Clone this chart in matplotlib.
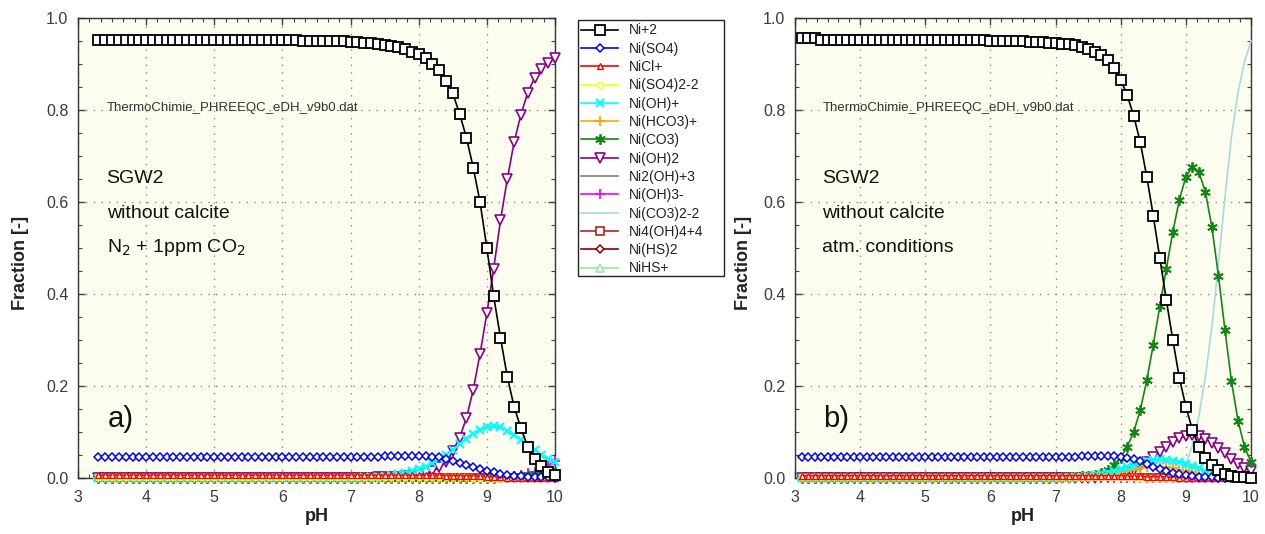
import matplotlib
matplotlib.use("Agg")
import matplotlib.pyplot as plt
from matplotlib.patches import Rectangle
from matplotlib.ticker import MultipleLocator, AutoMinorLocator, FormatStrFormatter

plt.rcParams['font.family'] = ['Liberation Sans', 'DejaVu Sans']

# ---------------- data ----------------
SPECIES = ["Ni+2", "Ni(SO4)", "NiCl+", "Ni(SO4)2-2", "Ni(OH)+", "Ni(HCO3)+", "Ni(CO3)",
           "Ni(OH)2", "Ni2(OH)+3", "Ni(OH)3-", "Ni(CO3)2-2", "Ni4(OH)4+4", "Ni(HS)2", "NiHS+"]

PH_A = [3.3, 3.4, 3.5, 3.6, 3.7, 3.8, 3.9,
        4.0, 4.1, 4.2, 4.3, 4.4, 4.5, 4.6, 4.7, 4.8, 4.9,
        5.0, 5.1, 5.2, 5.3, 5.4, 5.5, 5.6, 5.7, 5.8, 5.9,
        6.0, 6.1, 6.2, 6.3, 6.4, 6.5, 6.6, 6.7, 6.8, 6.9,
        7.0, 7.1, 7.2, 7.3, 7.4, 7.5, 7.6, 7.7, 7.8, 7.9,
        8.0, 8.1, 8.2, 8.3, 8.4, 8.5, 8.6, 8.7, 8.8, 8.9,
        9.0, 9.1, 9.2, 9.3, 9.4, 9.5, 9.6, 9.7, 9.8, 9.9,
        10.0]

A_NI2 = ([0.953] * 27
         + [0.952, 0.952, 0.952, 0.951, 0.951, 0.951, 0.950, 0.950, 0.949, 0.949]
         + [0.948, 0.947, 0.946, 0.945, 0.943, 0.941, 0.940, 0.937, 0.932, 0.927]
         + [0.922, 0.914, 0.901, 0.886, 0.863, 0.836, 0.792, 0.740, 0.675, 0.600]
         + [0.500, 0.395, 0.305, 0.220, 0.155, 0.108, 0.068, 0.042, 0.026, 0.013]
         + [0.007])
A_SO4 = ([0.046] * 37
         + [0.046, 0.046, 0.046, 0.046, 0.046, 0.047, 0.047, 0.047, 0.047, 0.047]
         + [0.047, 0.047, 0.046, 0.045, 0.042, 0.038, 0.033, 0.028, 0.023, 0.019]
         + [0.015, 0.012, 0.009, 0.007, 0.005, 0.004, 0.003, 0.003, 0.002, 0.002]
         + [0.001])
A_CL = ([0.006] * 37 + [0.006] * 10
        + [0.006, 0.006, 0.006, 0.006, 0.005, 0.005, 0.005, 0.005, 0.004, 0.004]
        + [0.003, 0.002, 0.002, 0.001, 0.001, 0.001, 0.0, 0.0, 0.0, 0.0]
        + [0.0])
A_SO42 = ([0.002] * 37 + [0.002] * 10
          + [0.002, 0.002, 0.002, 0.002, 0.002, 0.002, 0.002, 0.002, 0.001, 0.001]
          + [0.001, 0.001, 0.001, 0.0, 0.0, 0.0, 0.0, 0.0, 0.0, 0.0]
          + [0.0])
A_OH = ([0.0] * 37
        + [0.001, 0.001, 0.002, 0.002, 0.003, 0.004, 0.006, 0.008, 0.011, 0.015]
        + [0.019, 0.025, 0.032, 0.041, 0.050, 0.061, 0.073, 0.085, 0.096, 0.105]
        + [0.111, 0.113, 0.110, 0.103, 0.094, 0.083, 0.071, 0.060, 0.050, 0.041]
        + [0.034])
A_HCO3 = ([0.0] * 37
          + [0.0, 0.0, 0.0, 0.0, 0.0, 0.001, 0.001, 0.001, 0.001, 0.001]
          + [0.001] * 10
          + [0.001, 0.001, 0.001, 0.0, 0.0, 0.0, 0.0, 0.0, 0.0, 0.0]
          + [0.0])
A_CO3 = ([0.0] * 37 + [0.0] * 10
         + [0.0, 0.0, 0.0, 0.0, 0.0, 0.0, 0.0, 0.0, 0.0, 0.001]
         + [0.001, 0.001, 0.002, 0.003, 0.004, 0.005, 0.007, 0.008, 0.010, 0.011]
         + [0.012])
A_OH2 = ([0.0] * 37
         + [0.001, 0.001, 0.001, 0.001, 0.002, 0.002, 0.002, 0.003, 0.004, 0.005]
         + [0.007, 0.010, 0.015, 0.023, 0.035, 0.058, 0.088, 0.130, 0.192, 0.270]
         + [0.358, 0.455, 0.560, 0.650, 0.730, 0.790, 0.838, 0.870, 0.889, 0.903]
         + [0.912])
A_NI2OH3 = [0.0] * 68
A_OH3 = ([0.0] * 57
         + [0.0, 0.001, 0.002, 0.003, 0.004, 0.006, 0.010, 0.014, 0.020, 0.028]
         + [0.038])
A_CO32 = [0.0] * 68
A_NI4 = [0.0] * 68
A_HS2 = [0.0] * 68
A_HS = [0.0] * 68

PH_B = [3.1, 3.2, 3.3, 3.4, 3.5, 3.6, 3.7, 3.8, 3.9,
        4.0, 4.1, 4.2, 4.3, 4.4, 4.5, 4.6, 4.7, 4.8, 4.9,
        5.0, 5.1, 5.2, 5.3, 5.4, 5.5, 5.6, 5.7, 5.8, 5.9,
        6.0, 6.1, 6.2, 6.3, 6.4, 6.5, 6.6, 6.7, 6.8, 6.9,
        7.0, 7.1, 7.2, 7.3, 7.4, 7.5, 7.6, 7.7, 7.8, 7.9,
        8.0, 8.1, 8.2, 8.3, 8.4, 8.5, 8.6, 8.7, 8.8, 8.9,
        9.0, 9.1, 9.2, 9.3, 9.4, 9.5, 9.6, 9.7, 9.8, 9.9,
        10.0]

B_NI2 = ([0.956] * 3 + [0.953] * 6 + [0.952] * 20
         + [0.951, 0.951, 0.950, 0.950, 0.949, 0.949, 0.948, 0.948, 0.947, 0.946]
         + [0.945, 0.944, 0.943, 0.941, 0.938, 0.933, 0.927, 0.920, 0.909, 0.891]
         + [0.866, 0.832, 0.787, 0.730, 0.655, 0.570, 0.478, 0.387, 0.300, 0.218]
         + [0.155, 0.105, 0.068, 0.043, 0.028, 0.017, 0.009, 0.005, 0.003, 0.002]
         + [0.001])
B_SO4 = ([0.045] * 9 + [0.046] * 30
         + [0.046, 0.046, 0.046, 0.046, 0.047, 0.047, 0.047, 0.047, 0.047, 0.047]
         + [0.046, 0.044, 0.041, 0.036, 0.031, 0.025, 0.020, 0.015, 0.011, 0.008]
         + [0.006, 0.004, 0.003, 0.002, 0.002, 0.001, 0.001, 0.001, 0.001, 0.001]
         + [0.001])
B_CL = ([0.005] * 39 + [0.005] * 10
        + [0.005, 0.004, 0.004, 0.004, 0.003, 0.003, 0.003, 0.002, 0.002, 0.001]
        + [0.001, 0.001, 0.0, 0.0, 0.0, 0.0, 0.0, 0.0, 0.0, 0.0]
        + [0.0])
B_SO42 = ([0.002] * 39 + [0.002] * 10
          + [0.002, 0.002, 0.002, 0.001, 0.001, 0.001, 0.001, 0.001, 0.001, 0.0]
          + [0.0] * 10
          + [0.0])
B_OH = ([0.0] * 39
        + [0.001, 0.001, 0.002, 0.002, 0.003, 0.004, 0.006, 0.008, 0.011, 0.015]
        + [0.019, 0.024, 0.029, 0.034, 0.038, 0.040, 0.041, 0.040, 0.038, 0.035]
        + [0.031, 0.026, 0.021, 0.016, 0.012, 0.008, 0.005, 0.003, 0.002, 0.001]
        + [0.001])
B_HCO3 = ([0.0] * 39
          + [0.001, 0.001, 0.001, 0.002, 0.002, 0.003, 0.004, 0.005, 0.007, 0.009]
          + [0.012, 0.015, 0.018, 0.021, 0.023, 0.024, 0.024, 0.023, 0.021, 0.018]
          + [0.015, 0.012, 0.009, 0.006, 0.004, 0.003, 0.002, 0.001, 0.001, 0.0]
          + [0.0])
B_CO3 = ([0.0] * 39
         + [0.001, 0.002, 0.002, 0.003, 0.004, 0.005, 0.007, 0.011, 0.017, 0.028]
         + [0.044, 0.068, 0.100, 0.148, 0.212, 0.290, 0.373, 0.455, 0.535, 0.605]
         + [0.655, 0.677, 0.665, 0.622, 0.545, 0.440, 0.322, 0.210, 0.125, 0.068]
         + [0.035])
B_OH2 = ([0.0] * 39
         + [0.0, 0.0, 0.0, 0.0, 0.0, 0.001, 0.001, 0.002, 0.003, 0.005]
         + [0.008, 0.012, 0.018, 0.026, 0.035, 0.046, 0.057, 0.068, 0.078, 0.086]
         + [0.091, 0.093, 0.091, 0.085, 0.076, 0.066, 0.054, 0.042, 0.031, 0.022]
         + [0.015])
B_NI2OH3 = [0.0] * 70
B_OH3 = ([0.0] * 59
         + [0.0, 0.0, 0.0, 0.0, 0.0, 0.0, 0.001, 0.001, 0.001, 0.002]
         + [0.002])
B_CO32 = ([0.0] * 49
          + [0.0, 0.0, 0.0, 0.0, 0.0, 0.0, 0.0, 0.002, 0.004, 0.009]
          + [0.030, 0.070, 0.135, 0.220, 0.330, 0.465, 0.610, 0.742, 0.838, 0.905]
          + [0.950])
B_NI4 = [0.0] * 70
B_HS2 = [0.0] * 70
B_HS = [0.0] * 70

SERIES_A = [A_NI2, A_SO4, A_CL, A_SO42, A_OH, A_HCO3, A_CO3, A_OH2, A_NI2OH3,
            A_OH3, A_CO32, A_NI4, A_HS2, A_HS]
SERIES_B = [B_NI2, B_SO4, B_CL, B_SO42, B_OH, B_HCO3, B_CO3, B_OH2, B_NI2OH3,
            B_OH3, B_CO32, B_NI4, B_HS2, B_HS]

# ---------------- styles ----------------
STYLES = [
    dict(color='#000000', marker='s', ms=6.5, mfc='white', mew=1.3),
    dict(color='#0000FF', marker='D', ms=3.8, mfc='white', mew=1.1),
    dict(color='#FF0000', marker='^', ms=4.5, mfc='white', mew=1.0),
    dict(color='#FFFF00', marker='o', ms=4.5, mfc='white', mew=1.0),
    dict(color='#00FFFF', marker='x', ms=6.0, mew=1.5),
    dict(color='#FFA500', marker='+', ms=6.5, mew=1.3),
    dict(color='#118811', marker=(6, 2, 0), ms=7.5, mew=1.3),
    dict(color='#8B008B', marker='v', ms=6.5, mfc='white', mew=1.2),
    dict(color='#808080', marker='None'),
    dict(color='#FF00FF', marker='+', ms=6.5, mew=1.3),
    dict(color='#A8D8EA', marker='None'),
    dict(color='#B22222', marker='s', ms=6.0, mfc='white', mew=1.2),
    dict(color='#8B0000', marker='D', ms=4.0, mfc='white', mew=1.1),
    dict(color='#90EE90', marker='^', ms=5.5, mfc='white', mew=1.1),
]

W, H = 1265, 534
fig = plt.figure(figsize=(W / 100, H / 100), dpi=100)
axA = fig.add_axes([78 / W, 56 / H, 477 / W, 460 / H])
axB = fig.add_axes([795 / W, 56 / H, 456 / W, 460 / H])

TICK_COLOR = '#3a3a3a'


def draw(ax, ph, series, label, note, ylab_x):
    ax.set_facecolor('#FDFDEF')
    handles = []
    n = len(series)
    for i in range(n - 1, -1, -1):
        vals = series[i]
        st = dict(STYLES[i])
        color = st.pop('color')
        nonzero = max(vals) > 0
        ln, = ax.plot(ph, vals, color=color, mec=color, lw=1.2, label=SPECIES[i],
                      zorder=3 + (n - i) * 0.1, clip_on=not nonzero, **st)
        handles.append(ln)
    handles = handles[::-1]
    ax.set_xlim(3, 10)
    ax.set_ylim(0, 1.0)
    ax.xaxis.set_major_locator(MultipleLocator(1))
    ax.xaxis.set_minor_locator(AutoMinorLocator(6))
    ax.yaxis.set_major_locator(MultipleLocator(0.2))
    ax.yaxis.set_minor_locator(AutoMinorLocator(4))
    ax.yaxis.set_major_formatter(FormatStrFormatter('%.1f'))
    ax.tick_params(which='both', direction='in', top=True, right=True,
                   colors='#444444', labelcolor=TICK_COLOR, labelsize=11.5)
    ax.tick_params(which='major', length=5, width=1)
    ax.tick_params(which='minor', length=3, width=0.8)
    ax.tick_params(axis='x', pad=9)
    ax.tick_params(axis='y', pad=7)
    ax.grid(True, which='major', color='#8a8a8a', lw=1.0, ls=(0, (1, 4.5)))
    ax.set_axisbelow(True)
    for sp in ax.spines.values():
        sp.set_color('#333333')
        sp.set_linewidth(1.0)
    ax.set_xlabel('pH', fontsize=13, fontweight='bold', color='#222222')
    ax.xaxis.set_label_coords(0.5, -0.066)
    ax.set_ylabel('Fraction [-]', fontsize=13, fontweight='bold', color='#222222')
    ax.yaxis.set_label_coords(ylab_x, 0.467)

    tx = ax.transAxes
    ax.text(0.06, 0.804, 'ThermoChimie_PHREEQC_eDH_v9b0.dat', transform=tx,
            fontsize=9.5, color='#333333', va='center', ha='left')
    ax.text(0.06, 0.652, 'SGW2', transform=tx, fontsize=14, va='center', color='#111111')
    ax.text(0.06, 0.576, 'without calcite', transform=tx, fontsize=14, va='center',
            color='#111111')
    ax.text(0.06, 0.50, note, transform=tx, fontsize=14, va='center', color='#111111')
    ax.text(0.062, 0.128, label, transform=tx, fontsize=21, va='center', color='#111111')
    return handles


hA = draw(axA, PH_A, SERIES_A, 'a)', r'N$_2$ + 1ppm CO$_2$', -0.103)
hB = draw(axB, PH_B, SERIES_B, 'b)', 'atm. conditions', -0.094)

# legend frame (fixed box between the two panels)
fig.patches.append(Rectangle((578 / W, 1 - 276 / H), 146 / W, 256 / H,
                             transform=fig.transFigure, facecolor='white',
                             edgecolor='#222222', lw=1.0, zorder=0))
leg = fig.legend(hA, SPECIES, loc='upper left',
                 bbox_to_anchor=(578 / W, 1 - 20 / H), frameon=False,
                 fontsize=10, numpoints=1, handlelength=2.6,
                 handletextpad=0.8, labelspacing=0.31, borderpad=0.25, borderaxespad=0)
for t in leg.get_texts():
    t.set_color('#222222')

fig.savefig('out.png', dpi=100, facecolor='white')
